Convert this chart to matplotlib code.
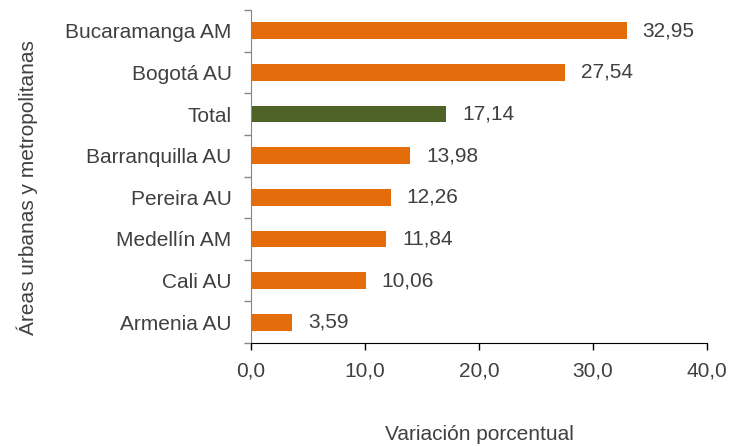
import numpy as np
import matplotlib.pyplot as plt

# Datos (de abajo hacia arriba)
areas = ['Armenia AU', 'Cali AU', 'Medellín AM', 'Pereira AU',
         'Barranquilla AU', 'Total', 'Bogotá AU', 'Bucaramanga AM']
variacion = [3.59, 10.06, 11.84, 12.26, 13.98, 17.14, 27.54, 32.95]
xticks = [0, 10, 20, 30, 40]

plt.rcParams['font.family'] = ['Liberation Sans', 'DejaVu Sans']
txt = '#404040'
naranja = '#E46C0A'
verde = '#4F6228'

fig = plt.figure(figsize=(7.31, 4.47), dpi=100)
ax = fig.add_axes([251/731, 1 - 343/447, (707-251)/731, (343-10)/447])

y = np.arange(len(areas))
colores = [verde if a == 'Total' else naranja for a in areas]
ax.barh(y, variacion, height=0.4, color=colores)

for yi, v in zip(y, variacion):
    ax.text(v + 1.4, yi, f'{v:.2f}'.replace('.', ','), va='center', ha='left',
            fontsize=15, color=txt)

ax.set_xlim(0, 40)
ax.set_ylim(-0.5, len(areas) - 0.5)
ax.set_xticks(xticks)
ax.set_xticklabels([f'{t:.1f}'.replace('.', ',') for t in xticks])
ax.set_yticks(y)
ax.set_yticklabels(areas)
ax.set_yticks(np.arange(-0.5, len(areas)), minor=True)

ax.tick_params(axis='x', length=5, width=1, color='#000000', pad=8,
               labelsize=15, labelcolor=txt)
ax.tick_params(axis='y', which='major', length=0, pad=14,
               labelsize=15, labelcolor=txt)
ax.tick_params(axis='y', which='minor', length=5, width=1, color='#868686')

for s in ['top', 'right']:
    ax.spines[s].set_visible(False)
ax.spines['left'].set_color('#868686')
ax.spines['bottom'].set_color('#000000')

fig.text(479/731, 1 - 434/447, 'Variación porcentual', ha='center', va='center',
         fontsize=15, color=txt)
fig.text(27/731, 1 - 188/447, 'Áreas urbanas y metropolitanas', ha='center',
         va='center', rotation=90, fontsize=15, color=txt)

fig.savefig('out.png', dpi=100)
